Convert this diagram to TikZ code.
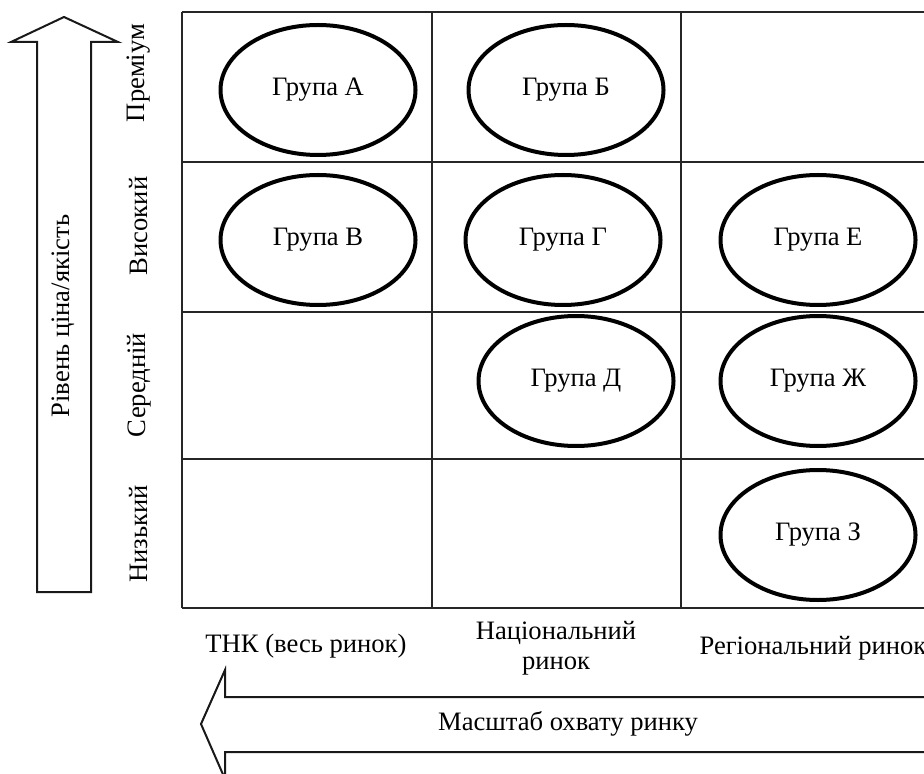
\documentclass[tikz,border=0pt]{standalone}
\usepackage{fontspec}
\setmainfont{Liberation Serif}
\usetikzlibrary{shapes.geometric}
\begin{document}
\begin{tikzpicture}[x=0.5pt,y=-0.5pt,
  grp/.style={draw,ellipse,line width=2pt,inner sep=0pt,minimum width=97.5pt,minimum height=65pt,font=\fontsize{13.3}{15}\selectfont},
  gridline/.style={line width=0.75pt,draw=black!85},
  bigarrow/.style={line width=1pt,draw=black!90,line join=miter},
  lbl/.style={font=\fontsize{13.3}{15}\selectfont,inner sep=0pt,align=center},
  rowlbl/.style={lbl,rotate=90}]
\useasboundingbox (0,0) rectangle (924,774);
% grid
\foreach \y in {12,162,312,459,608}{\draw[gridline] (182,\y) -- (930,\y);}
\foreach \x in {182,432,681}{\draw[gridline] (\x,12) -- (\x,608);}
% groups
\node[grp] (A) at (318,90) {Група А};
\node[grp] (B) at (566,90) {Група Б};
\node[grp] (V) at (318,240) {Група В};
\node[grp] (G) at (563,240) {Група Г};
\node[grp] (E) at (818,240) {Група Е};
\node[grp] (D) at (576,381) {Група Д};
\node[grp] (Zh) at (818,381) {Група Ж};
\node[grp] (Z) at (818,535) {Група З};
% row labels
\node[rowlbl] (premium) at (139,73) {Преміум};
\node[rowlbl] (high) at (139,226) {Високий};
\node[rowlbl] (mid) at (139,385) {Середній};
\node[rowlbl] (low) at (139,534) {Низький};
% column labels
\node[lbl] (tnk) at (306,646) {ТНК (весь ринок)};
\node[lbl] (nat) at (556,648) {Національний\\ринок};
\node[lbl] (reg) at (813,648) {Регіональний ринок};
% vertical arrow
\draw[bigarrow] (37,592) -- (37,42) -- (11,42) -- (64,17) -- (118,42) -- (91,42) -- (91,592) -- cycle;
\node[rowlbl] (level) at (63,316) {Рівень ціна/якість};
% horizontal arrow
\draw[bigarrow] (935,697) -- (225,697) -- (225,670) -- (201,724) -- (225,779) -- (225,752) -- (935,752);
\node[lbl] (scale) at (568,724) {Масштаб охвату ринку};
\end{tikzpicture}
\end{document}
